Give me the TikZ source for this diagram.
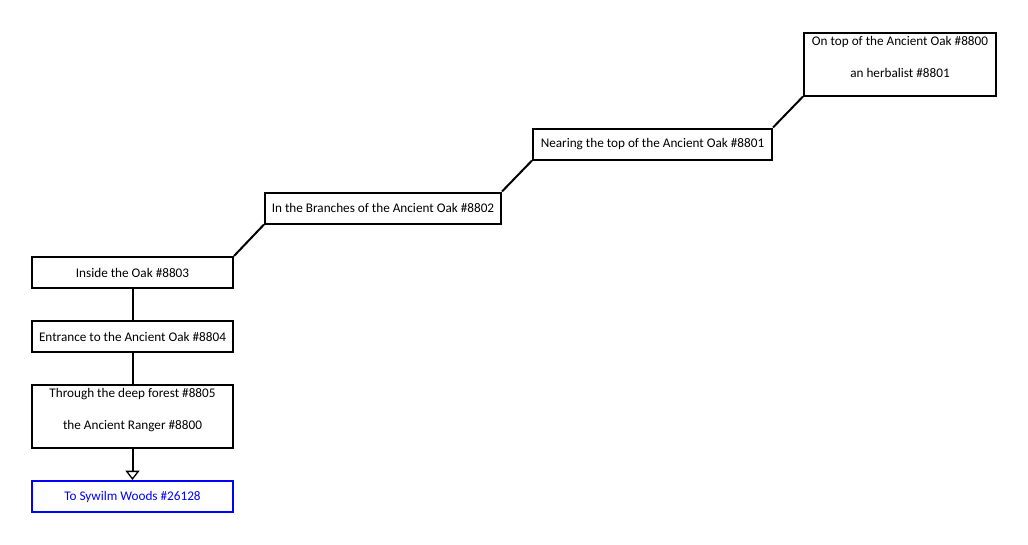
\documentclass[tikz,border=0pt]{standalone}
\usepackage{fontspec}
\setmainfont{Carlito}
\usepackage{xcolor}
\usetikzlibrary{arrows.meta,positioning}
\definecolor{exitblue}{RGB}{0,0,255}

\begin{document}
\begin{tikzpicture}[
    x=0.75pt, y=-0.75pt,
    room/.style={rectangle, draw=black, fill=white, line width=1.5pt, inner sep=0pt, font={\fontsize{9.9}{24}\selectfont}, align=center, minimum height=23.25pt},
    tallroom/.style={room, minimum height=47.25pt, text depth=11pt},
    exit/.style={room, draw=exitblue, text=exitblue},
    link/.style={line width=1.5pt},
    arrow/.style={line width=1.5pt, -{Triangle[open, length=7pt, width=10.5pt, line width=1pt]}}
]
    \useasboundingbox (0,0) rectangle (1028,544);
    \node[tallroom, minimum width=144pt] (oaktop) at (900,64) {On top of the Ancient Oak \#8800\\an herbalist \#8801};
    \node[room, minimum width=179.25pt] (nearing) at (652.5,144) {Nearing the top of the Ancient Oak \#8801};
    \node[room, minimum width=177pt] (branches) at (383,208) {In the Branches of the Ancient Oak \#8802};
    \node[room, minimum width=150.75pt] (inside) at (132.5,272.5) {Inside the Oak \#8803};
    \node[room, minimum width=150.75pt] (entrance) at (132.5,336.5) {Entrance to the Ancient Oak \#8804};
    \node[tallroom, minimum width=150.75pt] (forest) at (132.5,416) {Through the deep forest \#8805\\the Ancient Ranger \#8800};
    \node[exit, minimum width=150.75pt] (sywilm) at (132.5,496.5) {To Sywilm Woods \#26128};

    \draw[link] (oaktop.south west) -- (nearing.north east);
    \draw[link] (nearing.south west) -- (branches.north east);
    \draw[link] (branches.south west) -- (inside.north east);
    \draw[link] (inside) -- (entrance);
    \draw[link] (entrance) -- (forest);
    \draw[arrow] (forest) -- (sywilm);
\end{tikzpicture}
\end{document}
